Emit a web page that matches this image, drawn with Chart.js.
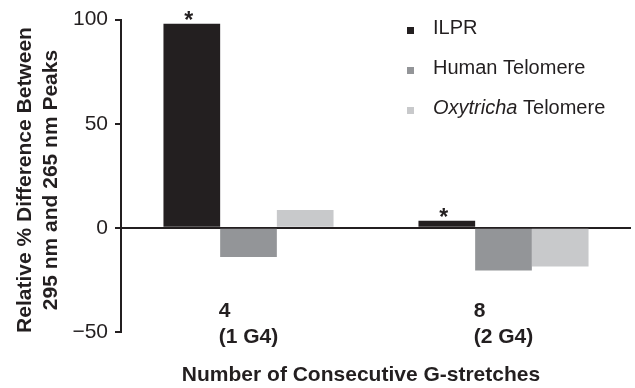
<!DOCTYPE html>
<html>
<head>
<meta charset="utf-8">
<script src="https://cdn.jsdelivr.net/npm/chart.js@4.4.1/dist/chart.umd.min.js"></script>
<style>
  html, body { margin: 0; padding: 0; background: #fff; }
  #caja { width: 635px; height: 388px; position: relative; }
</style>
</head>
<body>
<div id="caja"><canvas id="mychart"></canvas></div>
<script>
// datos
const categorias = [['4', '(1 G4)'], ['8', '(2 G4)']];
const series = ['ILPR', 'Human Telomere', 'Oxytricha Telomere'];
const cursivas = ['', '', 'Oxytricha'];
const ilpr = [98, 3.4];
const humano = [-14, -20.5];
const oxytricha = [8.6, -18.5];
const asteriscos = [true, true];
const ticksY = [-50, 0, 50, 100];
const tituloY = ['Relative % Difference Between', '295 nm and 265 nm Peaks'];
const tituloX = 'Number of Consecutive G-stretches';

const colores = ['#231f20', '#939598', '#c8c9cb'];
const tinta = '#231f20';
const fuente = '"Liberation Sans", Arial, Helvetica, sans-serif';

const extras = {
    id: 'extras',
    afterDatasetsDraw(chart) {
        const {ctx, scales: {x}} = chart;
        ctx.save();
        ctx.fillStyle = tinta;

        // asteriscos sobre ILPR
        ctx.font = `bold 23px ${fuente}`;
        ctx.textAlign = 'center';
        ctx.textBaseline = 'alphabetic';
        chart.getDatasetMeta(0).data.forEach((bar, i) => {
            if (asteriscos[i]) ctx.fillText('*', bar.x - 3, bar.y + 4);
        });

        // etiquetas de categoria (alineadas a la izquierda)
        ctx.font = `bold 21px ${fuente}`;
        ctx.textAlign = 'left';
        categorias.forEach((lineas, i) => {
            const ancho = Math.max(...lineas.map(l => ctx.measureText(l).width));
            const x0 = x.getPixelForValue(i) - ancho / 2;
            lineas.forEach((l, j) => ctx.fillText(l, x0, 317 + j * 26));
        });

        // titulo eje x
        ctx.textAlign = 'center';
        ctx.fillText(tituloX, 361, 381);

        // titulo eje y
        ctx.save();
        ctx.translate(0, 180);
        ctx.rotate(-Math.PI / 2);
        tituloY.forEach((l, j) => ctx.fillText(l, 0, 31 + j * 26));
        ctx.restore();

        // leyenda
        ctx.textAlign = 'left';
        series.forEach((nombre, i) => {
            const base = 34 + i * 40;
            ctx.fillStyle = colores[i];
            ctx.fillRect(407, base - 7, 7, 7);
            ctx.fillStyle = tinta;
            let xx = 433;
            const cur = cursivas[i];
            if (cur && nombre.startsWith(cur)) {
                ctx.font = `italic 20px ${fuente}`;
                ctx.fillText(cur, xx, base);
                xx += ctx.measureText(cur).width;
                ctx.font = `20px ${fuente}`;
                ctx.fillText(nombre.slice(cur.length), xx, base);
            } else {
                ctx.font = `20px ${fuente}`;
                ctx.fillText(nombre, xx, base);
            }
        });
        ctx.restore();
    }
};

const canvas = document.getElementById('mychart');
const grafico = new Chart(canvas, {
    type: 'bar',
    data: {
        labels: categorias.map(c => c.join(' ')),
        datasets: [
            { label: series[0], data: ilpr, backgroundColor: colores[0] },
            { label: series[1], data: humano, backgroundColor: colores[1] },
            { label: series[2], data: oxytricha, backgroundColor: colores[2] }
        ]
    },
    options: {
        responsive: true,
        maintainAspectRatio: false,
        animation: false,
        layout: { padding: { top: 19, right: 4, left: 0, bottom: 0 } },
        categoryPercentage: 0.667,
        barPercentage: 1,
        plugins: {
            legend: { display: false },
            tooltip: { enabled: false }
        },
        scales: {
            x: {
                grid: { display: false },
                border: { display: false },
                ticks: { display: false },
                afterFit: s => { s.height = 56; }
            },
            y: {
                min: -50,
                max: 100,
                afterBuildTicks: s => { s.ticks = ticksY.map(v => ({ value: v })); },
                afterFit: s => { s.width = 121; },
                border: { display: true, color: tinta, width: 2 },
                grid: {
                    color: c => (c.tick && c.tick.value === 0) ? tinta : 'rgba(0,0,0,0)',
                    tickColor: tinta,
                    tickLength: 6,
                    lineWidth: 2
                },
                ticks: {
                    color: tinta,
                    padding: 7,
                    font: { family: fuente, size: 21 },
                    callback: v => (v < 0 ? '\u2212' + Math.abs(v) : v)
                }
            }
        }
    },
    plugins: [extras]
});
</script>
</body>
</html>
